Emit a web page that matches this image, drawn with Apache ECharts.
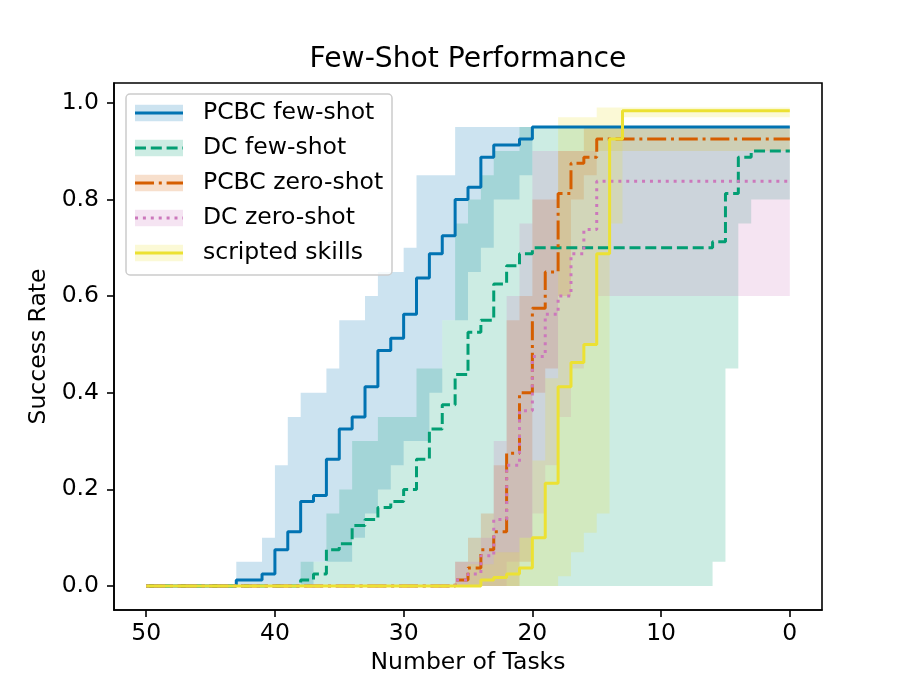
<!DOCTYPE html>
<html>
<head>
<meta charset="utf-8">
<script src="https://cdn.jsdelivr.net/npm/echarts@6/dist/echarts.min.js"></script>
<style>
  html, body { margin: 0; padding: 0; background: #fff; }
  #chart { width: 913px; height: 685px; }
</style>
</head>
<body>
<div id="chart"></div>
<script>
// x = number of tasks, read left (50) to right (0)
const tasks = [50, 49, 48, 47, 46, 45, 44, 43, 42, 41,
  40, 39, 38, 37, 36, 35, 34, 33, 32, 31,
  30, 29, 28, 27, 26, 25, 24, 23, 22, 21,
  20, 19, 18, 17, 16, 15, 14, 13, 12, 11,
  10, 9, 8, 7, 6, 5, 4, 3, 2, 1, 0];
const xTicks = [50, 40, 30, 20, 10, 0];
const yTicks = [0, 0.2, 0.4, 0.6, 0.8, 1.0];

// PCBC few-shot
const pcbcFew = [0, 0, 0, 0, 0, 0, 0, 0.0125, 0.0125, 0.025,
  0.075, 0.1125, 0.175, 0.1875, 0.2625, 0.325, 0.35, 0.4125, 0.4875, 0.5125,
  0.5625, 0.6375, 0.6875, 0.725, 0.8, 0.825, 0.8875, 0.9125, 0.9125, 0.925,
  0.95, 0.95, 0.95, 0.95, 0.95, 0.95, 0.95, 0.95, 0.95, 0.95,
  0.95, 0.95, 0.95, 0.95, 0.95, 0.95, 0.95, 0.95, 0.95, 0.95, 0.95];
const pcbcFewLo = [null, null, null, null, null, null, null, 0, 0, 0,
  0, 0, 0, 0.05, 0.05, 0.05, 0.1, 0.15, 0.2, 0.25,
  0.3, 0.3, 0.4, 0.55, 0.55, 0.65, 0.7, 0.8, 0.8, 0.85,
  null, null, null, null, null, null, null, null, null, null,
  null, null, null, null, null, null, null, null, null, null, null];
const pcbcFewHi = [null, null, null, null, null, null, null, 0.05, 0.05, 0.1,
  0.25, 0.35, 0.4, 0.4, 0.45, 0.55, 0.55, 0.6, 0.65, 0.65,
  0.7, 0.85, 0.85, 0.85, 0.95, 0.95, 0.95, 0.95, 0.95, 0.95,
  null, null, null, null, null, null, null, null, null, null,
  null, null, null, null, null, null, null, null, null, null, null];

// DC few-shot
const dcFew = [0, 0, 0, 0, 0, 0, 0, 0, 0, 0,
  0, 0, 0.0125, 0.025, 0.075, 0.0875, 0.125, 0.1375, 0.1625, 0.175,
  0.2, 0.2625, 0.325, 0.375, 0.4375, 0.525, 0.55, 0.625, 0.6625, 0.6875,
  0.7, 0.7, 0.7, 0.7, 0.7, 0.7, 0.7, 0.7, 0.7, 0.7,
  0.7, 0.7, 0.7, 0.7, 0.7125, 0.8125, 0.8875, 0.9, 0.9, 0.9, 0.9];
const dcFewLo = [null, null, null, null, null, null, null, null, null, null,
  null, null, 0, 0, 0, 0, 0, 0, 0, 0,
  0, 0, 0, 0, 0, 0, 0, 0, 0, 0,
  0, 0, 0, 0, 0, 0, 0, 0, 0, 0,
  0, 0, 0, 0, 0.05, 0.45, 0.75, 0.8, 0.8, 0.8, 0.8];
const dcFewHi = [null, null, null, null, null, null, null, null, null, null,
  null, null, 0.05, 0.05, 0.15, 0.2, 0.3, 0.3, 0.35, 0.35,
  0.35, 0.45, 0.45, 0.55, 0.75, 0.8, 0.85, 0.9, 0.9, 0.95,
  0.95, 0.95, 0.95, 0.95, 0.95, 0.95, 0.95, 0.95, 0.95, 0.95,
  0.95, 0.95, 0.95, 0.95, 0.95, 0.95, 0.95, 0.95, 0.95, 0.95, 0.95];

// PCBC zero-shot
const pcbcZero = [0, 0, 0, 0, 0, 0, 0, 0, 0, 0,
  0, 0, 0, 0, 0, 0, 0, 0, 0, 0,
  0, 0, 0, 0, 0.0125, 0.0375, 0.075, 0.1125, 0.275, 0.4,
  0.575, 0.65, 0.8125, 0.875, 0.8875, 0.925, 0.925, 0.925, 0.925, 0.925,
  0.925, 0.925, 0.925, 0.925, 0.925, 0.925, 0.925, 0.925, 0.925, 0.925, 0.925];
const pcbcZeroLo = [null, null, null, null, null, null, null, null, null, null,
  null, null, null, null, null, null, null, null, null, null,
  null, null, null, null, 0, 0, 0, 0, 0, 0.05,
  0.4, 0.45, 0.6, 0.8, 0.85, 0.9, 0.9, 0.9, 0.9, 0.9,
  0.9, 0.9, 0.9, 0.9, 0.9, 0.9, 0.9, 0.9, 0.9, 0.9, 0.9];
const pcbcZeroHi = [null, null, null, null, null, null, null, null, null, null,
  null, null, null, null, null, null, null, null, null, null,
  null, null, null, null, 0.05, 0.1, 0.15, 0.25, 0.55, 0.6,
  0.8, 0.8, 0.9, 0.9, 0.95, 0.95, 0.95, 0.95, 0.95, 0.95,
  0.95, 0.95, 0.95, 0.95, 0.95, 0.95, 0.95, 0.95, 0.95, 0.95, 0.95];

// DC zero-shot
const dcZero = [0, 0, 0, 0, 0, 0, 0, 0, 0, 0,
  0, 0, 0, 0, 0, 0, 0, 0, 0, 0,
  0, 0, 0, 0, 0.0125, 0.025, 0.0625, 0.1375, 0.25, 0.3625,
  0.475, 0.5625, 0.6, 0.6875, 0.7375, 0.8375, 0.8375, 0.8375, 0.8375, 0.8375,
  0.8375, 0.8375, 0.8375, 0.8375, 0.8375, 0.8375, 0.8375, 0.8375, 0.8375, 0.8375, 0.8375];
const dcZeroLo = [null, null, null, null, null, null, null, null, null, null,
  null, null, null, null, null, null, null, null, null, null,
  null, null, null, null, 0, 0, 0, 0, 0.05, 0.1,
  0.15, 0.25, 0.35, 0.45, 0.5, 0.6, 0.6, 0.6, 0.6, 0.6,
  0.6, 0.6, 0.6, 0.6, 0.6, 0.6, 0.6, 0.6, 0.6, 0.6, 0.6];
const dcZeroHi = [null, null, null, null, null, null, null, null, null, null,
  null, null, null, null, null, null, null, null, null, null,
  null, null, null, null, 0.05, 0.05, 0.1, 0.3, 0.6, 0.75,
  0.9, 0.9, 0.9, 0.9, 0.9, 0.9, 0.9, 0.9, 0.9, 0.9,
  0.9, 0.9, 0.9, 0.9, 0.9, 0.9, 0.9, 0.9, 0.9, 0.9, 0.9];

// scripted skills
const scripted = [0, 0, 0, 0, 0, 0, 0, 0, 0, 0,
  0, 0, 0, 0, 0, 0, 0, 0, 0, 0,
  0, 0, 0, 0, 0, 0, 0.0125, 0.0175, 0.025, 0.0375,
  0.1, 0.2125, 0.4125, 0.4625, 0.5, 0.6875, 0.925, 0.9833, 0.9833, 0.9833,
  0.9833, 0.9833, 0.9833, 0.9833, 0.9833, 0.9833, 0.9833, 0.9833, 0.9833, 0.9833, 0.9833];
const scriptedLo = [null, null, null, null, null, null, null, null, null, null,
  null, null, null, null, null, null, null, null, null, null,
  null, null, null, null, null, 0, 0, 0, 0, 0,
  0, 0, 0.02, 0.07, 0.11, 0.15, 0.75, 0.97, 0.97, 0.97,
  0.97, 0.97, 0.97, 0.97, 0.97, 0.97, 0.97, 0.97, 0.97, 0.97, 0.97];
const scriptedHi = [null, null, null, null, null, null, null, null, null, null,
  null, null, null, null, null, null, null, null, null, null,
  null, null, null, null, null, 0.045, 0.045, 0.07, 0.07, 0.1,
  0.26, 0.43, 0.97, 0.97, 0.97, 0.99, 0.99, 0.99, 0.99, 0.99,
  0.99, 0.99, 0.99, 0.99, 0.99, 0.99, 0.99, 0.99, 0.99, 0.99, 0.99];

const FONT = 'DejaVu Sans';
const lines = [
  { name: 'PCBC few-shot', mean: pcbcFew, lo: pcbcFewLo, hi: pcbcFewHi, color: '#0173b2', rgb: '1,115,178', dash: 'solid' },
  { name: 'DC few-shot', mean: dcFew, lo: dcFewLo, hi: dcFewHi, color: '#029e73', rgb: '2,158,115', dash: [11, 4.8] },
  { name: 'PCBC zero-shot', mean: pcbcZero, lo: pcbcZeroLo, hi: pcbcZeroHi, color: '#d55e00', rgb: '213,94,0', dash: [19, 4.8, 3, 4.8] },
  { name: 'DC zero-shot', mean: dcZero, lo: dcZeroLo, hi: dcZeroHi, color: '#cc78bc', rgb: '204,120,188', dash: [3, 4.9] },
  { name: 'scripted skills', mean: scripted, lo: scriptedLo, hi: scriptedHi, color: '#ece133', rgb: '236,225,51', dash: 'solid' }
];

// step band (value at x holds until x-1), drawn as one polygon per run
function bandRenderer(lo, hi, fill) {
  return function (params, api) {
    const polys = [];
    let top = [], bot = [];
    const flush = function () {
      if (top.length) {
        polys.push({ type: 'polygon', shape: { points: top.concat(bot.reverse()) }, style: { fill: fill } });
      }
      top = []; bot = [];
    };
    for (let i = 0; i < tasks.length - 1; i++) {
      if (lo[i] == null || hi[i] == null) { flush(); continue; }
      const a = tasks[i], b = tasks[i + 1];
      top.push(api.coord([a, hi[i]]), api.coord([b, hi[i]]));
      bot.push(api.coord([a, lo[i]]), api.coord([b, lo[i]]));
    }
    flush();
    return { type: 'group', children: polys };
  };
}

const series = [];
lines.forEach(function (s) {
  series.push({
    type: 'custom',
    name: s.name + ' band',
    renderItem: bandRenderer(s.lo, s.hi, 'rgba(' + s.rgb + ',0.2)'),
    data: [[tasks[0], 0]],
    silent: true
  });
  series.push({
    type: 'line',
    name: s.name,
    step: 'end',
    showSymbol: false,
    data: tasks.map(function (x, i) { return [x, s.mean[i]]; }),
    lineStyle: { color: s.color, width: 3, type: s.dash },
    silent: true
  });
});

// legend drawn like matplotlib's (band patch + line sample)
const legendEls = [{
  type: 'rect', shape: { x: 126, y: 94, width: 266, height: 181, r: 4 },
  style: { fill: 'rgba(255,255,255,0.8)', stroke: '#cccccc', lineWidth: 1.5 }, z: 100
}];
lines.forEach(function (s, i) {
  const cy = 113 + i * 35;
  legendEls.push({
    type: 'rect', shape: { x: 135, y: cy - 8.3, width: 48, height: 16.6 },
    style: { fill: 'rgba(' + s.rgb + ',0.2)' }, z: 101
  });
  legendEls.push({
    type: 'line', shape: { x1: 135, y1: cy, x2: 183, y2: cy },
    style: { stroke: s.color, lineWidth: 3, lineDash: s.dash === 'solid' ? null : s.dash }, z: 102
  });
  legendEls.push({
    type: 'text', x: 203, y: cy,
    style: { text: s.name, fill: '#000', font: '23.5px "' + FONT + '"', verticalAlign: 'middle', align: 'left' }, z: 102
  });
});
legendEls.push({
  type: 'text', x: 468, y: 60,
  style: { text: 'Few-Shot Performance', fill: '#000', font: '28.2px "' + FONT + '"', align: 'center', verticalAlign: 'middle' }
});

const chart = echarts.init(document.getElementById('chart'), null, { renderer: 'canvas' });
chart.setOption({
  animation: false,
  backgroundColor: '#fff',
  grid: { left: 114, right: 91, top: 83, bottom: 75, show: true, borderColor: '#000', borderWidth: 1.6, backgroundColor: 'transparent' },
  xAxis: {
    type: 'value', inverse: true, min: -2.5, max: 52.5,
    name: 'Number of Tasks', nameLocation: 'middle', nameGap: 41,
    nameTextStyle: { fontFamily: FONT, fontSize: 23.5, color: '#000' },
    axisLine: { show: true, onZero: false, lineStyle: { color: '#000', width: 1.6 } },
    axisTick: { show: true, length: 7, customValues: xTicks, lineStyle: { color: '#000', width: 1.6 } },
    axisLabel: { customValues: xTicks, margin: 12, fontFamily: FONT, fontSize: 23.5, color: '#000' },
    splitLine: { show: false }
  },
  yAxis: {
    type: 'value', min: -0.0496, max: 1.0409,
    name: 'Success Rate', nameLocation: 'middle', nameGap: 58,
    nameTextStyle: { fontFamily: FONT, fontSize: 23.5, color: '#000' },
    axisLine: { show: true, onZero: false, lineStyle: { color: '#000', width: 1.6 } },
    axisTick: { show: true, length: 7, customValues: yTicks, lineStyle: { color: '#000', width: 1.6 } },
    axisLabel: { customValues: yTicks, margin: 15, fontFamily: FONT, fontSize: 23.5, color: '#000',
      formatter: function (v) { return v.toFixed(1); } },
    splitLine: { show: false }
  },
  graphic: legendEls,
  series: series
});
</script>
</body>
</html>
